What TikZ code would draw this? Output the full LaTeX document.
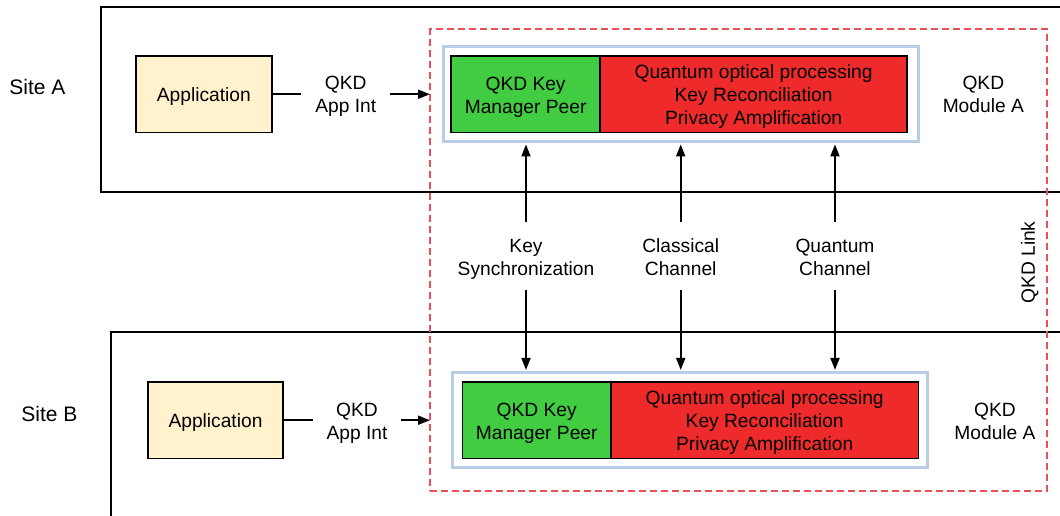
\documentclass[tikz,border=0pt]{standalone}
\usepackage{fontspec}
\setmainfont{Liberation Sans}
\usetikzlibrary{arrows.meta}

\definecolor{appyellow}{HTML}{FFF2CC}
\definecolor{kmgreen}{HTML}{42CC42}
\definecolor{procred}{HTML}{EE2A2A}
\definecolor{framblue}{HTML}{B8CEE6}
\definecolor{linkred}{HTML}{EA5058}

% uniform line box: same ascent on the first line, same descent on the last
\newcommand{\topstrut}{\rule{0pt}{19.5pt}}
\newcommand{\botstrut}{\rule[-4.5pt]{0pt}{0pt}}

\begin{document}
\begin{tikzpicture}[x=1pt,y=-1pt,
  every node/.style={font=\fontsize{19.2}{23}\selectfont, inner sep=0pt, outer sep=0pt,
    align=center},
  sitetxt/.style={font=\fontsize{21}{25}\selectfont},
  sitebox/.style={draw=black, line width=1.8pt},
  appbox/.style={draw=black, line width=1.8pt, fill=appyellow,
    minimum width=135.5pt, minimum height=76.5pt},
  kmbox/.style={draw=black, line width=1.8pt, fill=kmgreen,
    minimum width=148.5pt, minimum height=76.5pt},
  procbox/.style={draw=black, line width=1.8pt, fill=procred,
    minimum width=307.5pt, minimum height=76.5pt},
  modframe/.style={draw=framblue, line width=3pt, outer sep=2.5pt,
    minimum width=475pt, minimum height=95.5pt},
  linkbox/.style={draw=linkred, line width=2pt, dash pattern=on 7pt off 4pt,
    minimum width=617pt, minimum height=461.7pt},
  apitxt/.style={inner xsep=14pt},
  chantxt/.style={outer ysep=10.5pt},
  conn/.style={line width=1.8pt},
  arrow/.style={line width=1.8pt, -{Triangle[length=12pt,width=9pt]}},
]
\useasboundingbox (0,0) rectangle (1060,515);
\fill[white] (0,0) rectangle (1060,515);
\clip (0,0) rectangle (1060,515);

% the two sites
\draw[sitebox] (101,7) rectangle (1080,192);
\draw[sitebox] (111,332.3) rectangle (1080,540);
\node[sitetxt] (siteA) at (37.5,86.9) {\topstrut Site A\botstrut};
\node[sitetxt] (siteB) at (49.5,414.4) {\topstrut Site B\botstrut};

% QKD link around both modules
\node[linkbox] (link) at (738.5,260.2) {};
\node[rotate=90] (linklbl) at (1027.3,262.5) {\topstrut QKD Link\botstrut};

% site A
\node[appbox] (appA) at (203.9,94.2) {\topstrut Application\botstrut};
\node[apitxt] (apiA) at (345.7,93.8) {\topstrut QKD\\App Int\botstrut};
\node[modframe] (modA) at (680.7,94.2) {};
\node[kmbox] (kmA) at (525.6,94.2) {\topstrut QKD Key\\Manager Peer\botstrut};
\node[procbox, anchor=west] (qpA) at (kmA.east) {\topstrut Quantum optical processing\\Key Reconciliation\\Privacy Amplification\botstrut};
\node (modlblA) at (983.3,93.6) {\topstrut QKD\\Module A\botstrut};

% site B
\node[appbox] (appB) at (215.5,420.2) {\topstrut Application\botstrut};
\node[apitxt] (apiB) at (357,420.3) {\topstrut QKD\\App Int\botstrut};
\node[modframe] (modB) at (689.5,420.2) {};
\node[kmbox] (kmB) at (536.7,420.2) {\topstrut QKD Key\\Manager Peer\botstrut};
\node[procbox, anchor=west] (qpB) at (kmB.east) {\topstrut Quantum optical processing\\Key Reconciliation\\Privacy Amplification\botstrut};
\node (modlblB) at (995,420.2) {\topstrut QKD\\Module A\botstrut};

% channels between the modules
\node[chantxt] (sync) at (526,256.3) {\topstrut Key\\Synchronization\botstrut};
\node[chantxt] (classical) at (680.7,256.3) {\topstrut Classical\\Channel\botstrut};
\node[chantxt] (quantum) at (835,256.3) {\topstrut Quantum\\Channel\botstrut};

% application interfaces
\draw[conn] (appA.east) -- (appA.east -| apiA.west);
\draw[arrow] (appA.east -| apiA.east) -- (appA.east -| link.west);
\draw[conn] (appB.east) -- (appB.east -| apiB.west);
\draw[arrow] (appB.east -| apiB.east) -- (appB.east -| link.west);

% channel arrows
\foreach \c in {sync,classical,quantum}{
  \draw[arrow] (\c.north) -- (\c.north |- modA.south);
  \draw[arrow] (\c.south) -- (\c.south |- modB.north);
}
\end{tikzpicture}
\end{document}
